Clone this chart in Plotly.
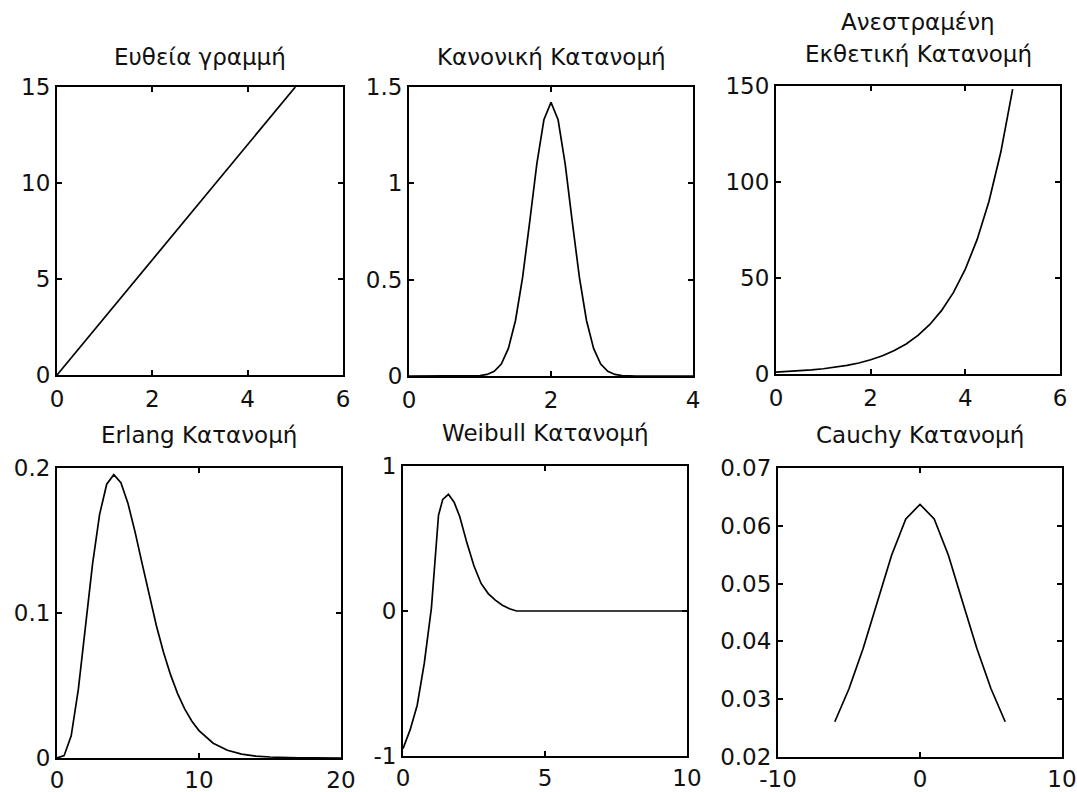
import plotly.graph_objects as go

W, H = 1077, 792

# ---- data -------------------------------------------------------------
line_x = [0, 1, 2, 3, 4, 5]
line_y = [0, 3, 6, 9, 12, 15]

normal_x = [0.0, 0.2, 0.4, 0.6, 0.8, 1.0, 1.1, 1.2, 1.3, 1.4, 1.5, 1.6, 1.7, 1.8,
            1.9, 2.0, 2.1, 2.2, 2.3, 2.4, 2.5, 2.6, 2.7, 2.8, 2.9, 3.0, 3.2,
            3.4, 3.6, 3.8, 4.0]
normal_y = [0.0, 0.0, 0.0, 0.0, 0.0, 0.002, 0.008, 0.024, 0.062, 0.143, 0.288,
            0.512, 0.80, 1.10, 1.33, 1.42, 1.33, 1.10, 0.80, 0.512, 0.288,
            0.143, 0.062, 0.024, 0.008, 0.002, 0.0, 0.0, 0.0, 0.0, 0.0]

exp_x = [0, 0.25, 0.5, 0.75, 1.0, 1.25, 1.5, 1.75, 2.0, 2.25, 2.5, 2.75, 3.0,
         3.25, 3.5, 3.75, 4.0, 4.25, 4.5, 4.75, 5.0]
exp_y = [1.0, 1.28, 1.65, 2.12, 2.72, 3.49, 4.48, 5.75, 7.39, 9.49, 12.18,
         15.64, 20.09, 25.79, 33.12, 42.52, 54.6, 70.1, 90.0, 115.6, 148.4]

erlang_x = [0, 0.5, 1.0, 1.5, 2.0, 2.5, 3.0, 3.5, 4.0, 4.5, 5.0, 5.5, 6.0, 6.5,
            7.0, 7.5, 8.0, 8.5, 9.0, 9.5, 10, 11, 12, 13, 14, 15, 16, 17, 18,
            19, 20]
erlang_y = [0.0, 0.0016, 0.0153, 0.0471, 0.0902, 0.1336, 0.168, 0.1888,
            0.1954, 0.1898, 0.1755, 0.1558, 0.1339, 0.1118, 0.0912, 0.0729,
            0.0573, 0.0442, 0.0337, 0.0254, 0.0189, 0.0102, 0.0053, 0.0027,
            0.0013, 0.0007, 0.0003, 0.0001, 0.0001, 0.0, 0.0]

weibull_x = [0, 0.25, 0.5, 0.75, 1.0, 1.1, 1.25, 1.4, 1.6, 1.8, 2.0, 2.25, 2.5,
             2.75, 3.0, 3.25, 3.5, 3.75, 4.0, 5, 6, 7, 8, 9, 10]
weibull_y = [-0.95, -0.82, -0.65, -0.36, 0.02, 0.30, 0.66, 0.77, 0.805, 0.75,
             0.65, 0.47, 0.31, 0.19, 0.12, 0.075, 0.04, 0.015, 0.0, 0.0, 0.0,
             0.0, 0.0, 0.0, 0.0]

cauchy_x = [-6, -5, -4, -3, -2, -1, 0, 1, 2, 3, 4, 5, 6]
cauchy_y = [0.0261, 0.0318, 0.0388, 0.0468, 0.0549, 0.0612, 0.0637, 0.0612,
            0.0549, 0.0468, 0.0388, 0.0318, 0.0261]

titles = [["Ευθεία γραμμή"], ["Κανονική Κατανομή"],
          ["Ανεστραμένη", "Εκθετική Κατανομή"],
          ["Erlang Κατανομή"], ["Weibull Κατανομή"], ["Cauchy Κατανομή"]]

x_ranges = [[0, 6], [0, 4], [0, 6], [0, 20], [0, 10], [-10, 10]]
y_ranges = [[0, 15], [0, 1.5], [0, 150], [0, 0.2], [-1, 1], [0.02, 0.07]]
x_ticks = [[0, 2, 4, 6], [0, 2, 4], [0, 2, 4, 6], [0, 10, 20], [0, 5, 10],
           [-10, 0, 10]]
y_ticks = [[0, 5, 10, 15], [0, 0.5, 1, 1.5], [0, 50, 100, 150],
           [0, 0.1, 0.2], [-1, 0, 1],
           [0.02, 0.03, 0.04, 0.05, 0.06, 0.07]]

series = [(line_x, line_y), (normal_x, normal_y), (exp_x, exp_y),
          (erlang_x, erlang_y), (weibull_x, weibull_y), (cauchy_x, cauchy_y)]

# ---- panel boxes in pixels: left, right, top, bottom -------------------
boxes = [(57, 343, 87, 375), (409, 693, 87, 376), (776, 1060, 86, 374),
         (57, 341, 468, 758), (403, 687, 466, 756), (778, 1062, 468, 757)]
# distance (px) from box top to the centre of the last title line
title_gap = [30, 30, 32, 33, 33, 33]
LINE_STEP = 32

FONT = "DejaVu Sans"
INK = "#111111"

fig = go.Figure()
layout = dict(width=W, height=H, margin=dict(l=0, r=0, t=0, b=0),
              paper_bgcolor="white", plot_bgcolor="white", showlegend=False,
              font=dict(family=FONT, size=23, color=INK))
annotations = []

for i, ((xs, ys), (l, r, t, b)) in enumerate(zip(series, boxes)):
    n = "" if i == 0 else str(i + 1)
    fig.add_trace(go.Scatter(x=xs, y=ys, mode="lines",
                             line=dict(color="black", width=1.7),
                             xaxis="x" + n, yaxis="y" + n,
                             hoverinfo="skip"))
    common = dict(showgrid=False, zeroline=False, showline=True,
                  linecolor="black", linewidth=2, mirror="ticks",
                  ticks="inside", ticklen=5, tickwidth=1.5, tickcolor="black",
                  tickfont=dict(family=FONT, size=23, color=INK),
                  ticklabeloverflow="allow",
                  automargin=False, fixedrange=True)
    layout["xaxis" + n] = dict(common, domain=[l / W, r / W],
                               anchor="y" + n, range=x_ranges[i],
                               tickvals=x_ticks[i],
                               ticklabelstandoff=2 if i < 3 else 0,
                               ticktext=[f"{v:g}" for v in x_ticks[i]])
    layout["yaxis" + n] = dict(common, domain=[1 - b / H, 1 - t / H],
                               anchor="x" + n, range=y_ranges[i],
                               tickvals=y_ticks[i],
                               ticktext=[f"{v:g}" for v in y_ticks[i]])
    # title lines above each box
    lines = titles[i]
    for k, txt in enumerate(lines):
        offset = title_gap[i] + LINE_STEP * (len(lines) - 1 - k)
        annotations.append(dict(text=txt, xref="paper", yref="paper",
                                x=(l + r) / 2 / W,
                                y=1 - (t - offset) / H,
                                xanchor="center", yanchor="middle",
                                showarrow=False,
                                font=dict(family=FONT, size=23, color=INK)))

layout["annotations"] = annotations
fig.update_layout(**layout)
fig.write_html("out.html", config={"displayModeBar": False})
